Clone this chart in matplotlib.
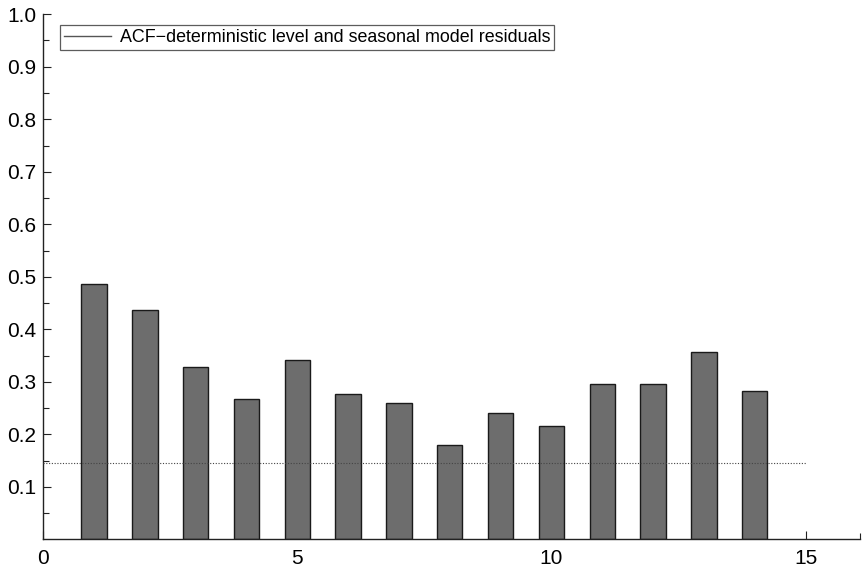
import numpy as np
import matplotlib.pyplot as plt
from matplotlib.lines import Line2D

plt.rcParams['font.family'] = ['Liberation Sans', 'DejaVu Sans']

# ACF values
lags = [1, 2, 3, 4, 5, 6, 7, 8, 9, 10, 11, 12, 13, 14]
acf = [0.486, 0.436, 0.328, 0.267, 0.341, 0.276, 0.260,
       0.179, 0.241, 0.215, 0.295, 0.295, 0.356, 0.283]
conf_level = 0.145
conf_range = [0, 15]
yticks = [0.1, 0.2, 0.3, 0.4, 0.5, 0.6, 0.7, 0.8, 0.9, 1.0]
xticks = [0, 5, 10, 15]

fig = plt.figure(figsize=(8.63, 5.69), dpi=100)
ax = fig.add_axes([0.050, 0.052, 0.947, 0.923])

ax.bar(lags, acf, width=0.5, color='#6d6d6d', edgecolor='#1a1a1a', linewidth=1.0, zorder=2)
ax.plot(conf_range, [conf_level, conf_level], color='#444444', linestyle=(0, (1, 1.5)),
        linewidth=0.8, zorder=3)

ax.set_xlim(0, 16.08)
ax.set_ylim(0, 1.0)
ax.set_xticks(xticks)
ax.set_xticks([16.08], minor=True)
ax.set_yticks(yticks)
ax.set_yticklabels(['%.1f' % v for v in yticks])
ax.set_yticks(np.arange(0.05, 1.0, 0.1), minor=True)

for s in ['top', 'right']:
    ax.spines[s].set_visible(False)
for s in ['left', 'bottom']:
    ax.spines[s].set_linewidth(1.0)
    ax.spines[s].set_color('#222222')

ax.tick_params(axis='both', which='major', direction='in', length=6, width=0.8,
               labelsize=15, colors='#222222', labelcolor='black')
ax.tick_params(axis='both', which='minor', direction='in', length=4, width=0.8, colors='#222222')
ax.tick_params(axis='y', pad=5)
ax.tick_params(axis='x', pad=7)

handle = Line2D([0], [0], color='#555555', linewidth=1.0)
leg = ax.legend([handle], ['ACF\u2212deterministic level and seasonal model residuals'],
                loc='upper left', bbox_to_anchor=(0.021, 0.979), fontsize=12.9,
                frameon=True, fancybox=False, handlelength=2.6, borderpad=0.22,
                handletextpad=0.5, borderaxespad=0)
leg.get_frame().set_edgecolor('#333333')
leg.get_frame().set_linewidth(0.9)

fig.savefig('out.png', dpi=100)
